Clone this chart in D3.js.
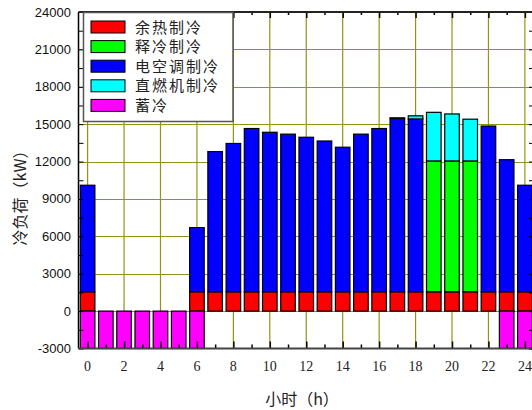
<!DOCTYPE html>
<html>
<head>
<meta charset="utf-8">
<script src="https://cdn.jsdelivr.net/npm/d3@7/dist/d3.min.js"></script>
<style>
  body { margin: 0; background: #fff; }
  svg { display: block; }
</style>
</head>
<body>
<svg id="chart"></svg>
<script>
var width = 532;
var height = 410;

// hourly data (kW)
var hours = [0,1,2,3,4,5,6,7,8,9,10,11,12,13,14,15,16,17,18,19,20,21,22,23,24];
var wasteHeat  = [1550,0,0,0,0,0,1550,1550,1550,1550,1550,1550,1550,1550,1550,1550,1550,1550,1550,1550,1550,1550,1550,1550,1550];
var iceRelease = [0,0,0,0,0,0,0,0,0,0,0,0,0,0,0,0,0,0,0,10500,10500,10500,0,0,0];
var electric   = [8550,0,0,0,0,0,5150,11250,11900,13100,12800,12650,12400,12100,11600,12650,13100,13900,13870,0,0,0,13300,10600,8550];
var directFire = [0,0,0,0,0,0,0,0,0,0,0,0,0,0,0,0,0,60,250,3900,3770,3350,0,0,0];
var iceStore   = [-3000,-3000,-3000,-3000,-3000,-3000,-3000,0,0,0,0,0,0,0,0,0,0,0,0,0,0,0,0,-3000,-3000];

var seriesNames  = ["余热制冷","释冷制冷","电空调制冷","直燃机制冷","蓄冷"];
var seriesKeys   = ["waste","release","electric","direct","store"];
var seriesColors = ["#ff0000","#00ff00","#0000ff","#00ffff","#ff00ff"];

var yTicks = [-3000,0,3000,6000,9000,12000,15000,18000,21000,24000];
var xTicks = [0,2,4,6,8,10,12,14,16,18,20,22,24];

var rows = hours.map(function(h, i) {
  return {hour: h, waste: wasteHeat[i], release: iceRelease[i], electric: electric[i],
          direct: directFire[i], store: iceStore[i]};
});

var svg = d3.select('#chart').attr('width', width).attr('height', height);

var x = d3.scaleLinear().domain([-0.5, 24.5]).range([78.5, 534]);
var y = d3.scaleLinear().domain([-3000, 24000]).range([348.5, 12]);
var barW = (x(1) - x(0)) * 0.8;

// grid
var grid = svg.append('g');
grid.selectAll('line.gy')
  .data(yTicks.filter(function(d){ return d > -3000 && d < 24000; }))
  .enter().append('line')
    .attr('x1', x(-0.5)).attr('x2', x(24.5))
    .attr('y1', function(d){ return Math.round(y(d)) + 0.5; })
    .attr('y2', function(d){ return Math.round(y(d)) + 0.5; })
    .attr('stroke', '#939318').attr('stroke-width', 1.2);
grid.selectAll('line.gx')
  .data(xTicks)
  .enter().append('line')
    .attr('y1', y(-3000)).attr('y2', y(24000))
    .attr('x1', function(d){ return x(d); })
    .attr('x2', function(d){ return x(d); })
    .attr('stroke', '#939318').attr('stroke-width', 1.2);

// stacked bars
var stack = d3.stack().keys(seriesKeys).offset(d3.stackOffsetDiverging);
var layers = stack(rows);

var bars = svg.append('g').selectAll('g')
  .data(layers)
  .enter().append('g')
    .attr('fill', function(d, i){ return seriesColors[i]; });
bars.selectAll('rect')
  .data(function(d){ return d.filter(function(p){ return p[1] - p[0] !== 0; }); })
  .enter().append('rect')
    .attr('x', function(d){ return x(d.data.hour) - barW / 2; })
    .attr('width', barW)
    .attr('y', function(d){ return y(Math.max(d[0], d[1])); })
    .attr('height', function(d){ return Math.abs(y(d[0]) - y(d[1])); })
    .attr('stroke', '#000')
    .attr('stroke-width', 1.2);

// axes
var minorY = d3.range(-3000, 24001, 1500);
var minorX = d3.range(0, 25, 1);

var leftAxis = svg.append('g').attr('transform', 'translate(' + x(-0.5) + ',0)');
leftAxis.call(d3.axisRight(y).tickValues(minorY).tickSize(5).tickFormat(''));
leftAxis.select('.domain').remove();
leftAxis.append('line').attr('y1', y(-3000)).attr('y2', y(24000)).attr('stroke', '#000').attr('stroke-width', 1.5);

var rightAxis = svg.append('g').attr('transform', 'translate(' + x(24.5) + ',0)');
rightAxis.call(d3.axisLeft(y).tickValues(minorY).tickSize(5).tickFormat(''));

var topAxis = svg.append('g').attr('transform', 'translate(0,' + y(24000) + ')');
topAxis.call(d3.axisBottom(x).tickValues(minorX).tickSize(3).tickFormat(''));
topAxis.selectAll('.tick line').attr('y2', function(d){ return d % 2 === 0 ? 6 : 3; }).attr('stroke-width', 1.5);
topAxis.select('.domain').remove();
topAxis.append('line').attr('x1', x(-0.5)).attr('x2', x(24.5)).attr('stroke', '#222').attr('stroke-width', 1.8);

var bottomAxis = svg.append('g').attr('transform', 'translate(0,' + y(-3000) + ')');
bottomAxis.call(d3.axisTop(x).tickValues(minorX).tickSize(4).tickFormat(''));
bottomAxis.selectAll('.tick line').attr('y2', function(d){ return d % 2 === 0 ? -7 : -4; }).attr('stroke-width', 1.5);
bottomAxis.select('.domain').remove();
bottomAxis.append('line').attr('x1', x(-0.5)).attr('x2', x(24.5)).attr('stroke', '#444').attr('stroke-width', 2);

// tick labels
svg.append('g').selectAll('text')
  .data(yTicks)
  .enter().append('text')
    .attr('x', 71).attr('y', function(d){ return y(d) + 4.5; })
    .attr('text-anchor', 'end')
    .attr('font-family', 'Liberation Sans, Arial, sans-serif')
    .attr('font-size', 13)
    .attr('fill', '#111')
    .text(function(d){ return d; });

svg.append('g').selectAll('text')
  .data(xTicks)
  .enter().append('text')
    .attr('x', function(d){ return x(d); }).attr('y', 371)
    .attr('text-anchor', 'middle')
    .attr('font-family', 'Liberation Serif, Times New Roman, serif')
    .attr('font-size', 14)
    .attr('fill', '#222')
    .text(function(d){ return d; });

// axis titles
svg.append('text')
  .attr('x', 302).attr('y', 405)
  .attr('text-anchor', 'middle')
  .attr('font-family', 'Noto Sans CJK SC, sans-serif')
  .attr('font-size', 16)
  .attr('fill', '#222')
  .text('小时（h）');

svg.append('text')
  .attr('transform', 'translate(26,194) rotate(-90)')
  .attr('text-anchor', 'middle')
  .attr('font-family', 'Noto Sans CJK SC, sans-serif')
  .attr('font-size', 16)
  .attr('fill', '#222')
  .text('冷负荷（kW）');

// legend
var legend = svg.append('g');
legend.append('rect')
  .attr('x', 83.5).attr('y', 12.5).attr('width', 149.5).attr('height', 109)
  .attr('fill', '#fff').attr('stroke', '#555').attr('stroke-width', 1.5);
var items = legend.selectAll('g.item')
  .data(seriesNames)
  .enter().append('g')
    .attr('transform', function(d, i){ return 'translate(0,' + (27 + i * 19.6) + ')'; });
items.append('rect')
  .attr('x', 91).attr('y', -6).attr('width', 34).attr('height', 12)
  .attr('fill', function(d, i){ return seriesColors[i]; })
  .attr('stroke', '#000').attr('stroke-width', 1);
items.append('text')
  .attr('x', 135).attr('y', 5.5)
  .attr('font-family', 'Noto Sans CJK SC, sans-serif')
  .attr('font-size', 15)
  .attr('letter-spacing', 2)
  .attr('fill', '#222')
  .text(function(d){ return d; });
</script>
</body>
</html>
